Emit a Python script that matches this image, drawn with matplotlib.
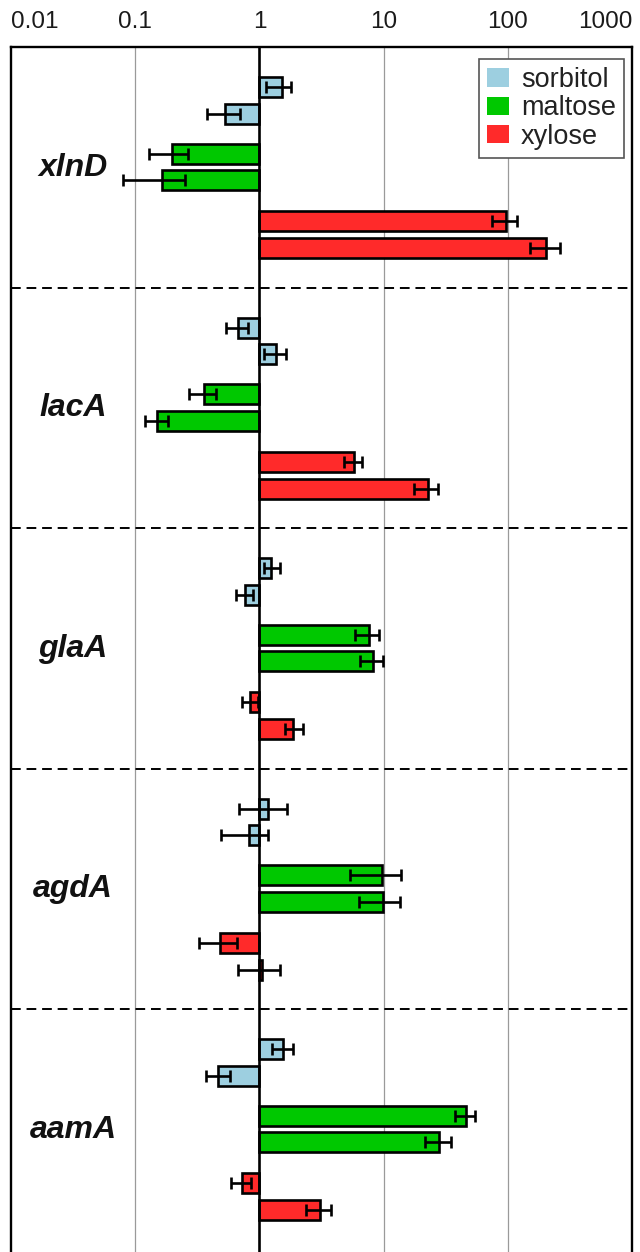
import matplotlib
matplotlib.use("Agg")
import matplotlib.pyplot as plt
from matplotlib.patches import Patch
import numpy as np

# ---------------- data ----------------
genes = ["xlnD", "lacA", "glaA", "agdA", "aamA"]
sugars = ["sorbitol", "maltose", "xylose"]
tick_values = [0.01, 0.1, 1, 10, 100, 1000]
tick_labels = ["0.01", "0.1", "1", "10", "100", "1000"]

# two replicates per gene (gene order as above)
sorbitol = [1.51, 0.53, 0.67, 1.35, 1.25, 0.76, 1.18, 0.82, 1.54, 0.46]
sorbitol_lo = [1.14, 0.38, 0.54, 1.08, 1.08, 0.65, 0.69, 0.49, 1.27, 0.37]
sorbitol_hi = [1.81, 0.70, 0.81, 1.64, 1.46, 0.89, 1.68, 1.18, 1.85, 0.58]

maltose = [0.197, 0.164, 0.36, 0.149, 7.6, 8.2, 9.7, 9.85, 45.7, 27.8]
maltose_lo = [0.128, 0.080, 0.272, 0.119, 5.86, 6.46, 5.4, 6.37, 37.6, 21.4]
maltose_hi = [0.266, 0.254, 0.45, 0.184, 9.2, 9.93, 13.9, 13.6, 54.8, 34.9]

xylose = [96, 204, 5.8, 22.7, 0.84, 1.88, 0.485, 1.05, 0.72, 3.09]
xylose_lo = [74, 151, 4.78, 17.7, 0.72, 1.6, 0.324, 0.67, 0.586, 2.36]
xylose_hi = [119, 262, 6.66, 27.2, 0.98, 2.24, 0.656, 1.46, 0.854, 3.79]

colors = {"sorbitol": "#9dcfe0", "maltose": "#00c800", "xylose": "#ff2a2a"}

# ---------------- layout ----------------
W, H = 640, 1252
fig = plt.figure(figsize=(W / 100, H / 100), dpi=100)
ax_left, ax_right, ax_top = 11, 632, 47
ax = fig.add_axes([ax_left / W, 0, (ax_right - ax_left) / W, 1 - ax_top / H])

GROUP_H = 240.5
offsets = {"sorbitol": (40, 66.5), "maltose": (106.5, 133), "xylose": (174, 201)}
BAR_H = 20
LW = 1.9

series = {
    "sorbitol": (sorbitol, sorbitol_lo, sorbitol_hi),
    "maltose": (maltose, maltose_lo, maltose_hi),
    "xylose": (xylose, xylose_lo, xylose_hi),
}

for sugar in sugars:
    vals, lo, hi = (np.array(a, dtype=float) for a in series[sugar])
    ys = np.array([g * GROUP_H + offsets[sugar][r]
                   for g in range(len(genes)) for r in range(2)])
    ax.barh(ys, vals - 1, left=1, height=BAR_H, color=colors[sugar],
            edgecolor="black", linewidth=LW, zorder=3)
    ax.errorbar(vals, ys, xerr=[vals - lo, hi - vals], fmt="none",
                ecolor="black", elinewidth=LW, capsize=4, capthick=LW,
                zorder=4)

ax.set_xscale("log")
ax.set_xlim(0.01, 1000)
ax.set_ylim(1205, 0)

# grid lines
for v in [0.1, 10, 100]:
    ax.axvline(v, color="#9a9a9a", lw=0.9, zorder=1)
ax.axvline(1, color="black", lw=1.9, zorder=5)

# group separators
for g in range(1, len(genes)):
    ax.axhline(g * GROUP_H, color="black", lw=1.4, ls=(0, (5, 3)), zorder=2)

# gene labels
xfrac = (73 - ax_left) / (ax_right - ax_left)
for g, name in enumerate(genes):
    ax.text(xfrac, g * GROUP_H + 121, name, transform=ax.get_yaxis_transform(),
            ha="center", va="center", fontsize=23, fontweight="bold",
            fontstyle="italic", family="Liberation Sans", color="#111111")

# ticks on top
ax.xaxis.tick_top()
ax.set_xticks(tick_values)
ax.set_xticklabels(tick_labels)
ax.minorticks_off()
ax.tick_params(axis="x", which="both", length=0, pad=10, labelsize=17.5,
               labelcolor="#1a1a1a")
labs = ax.get_xticklabels()
for lab in labs:
    lab.set_family("Liberation Sans")
labs[0].set_ha("left")
labs[-1].set_ha("right")
ax.set_yticks([])

for s in ["left", "right", "top"]:
    ax.spines[s].set_linewidth(1.7)
    ax.spines[s].set_color("black")
ax.spines["bottom"].set_visible(False)

handles = [Patch(facecolor=colors[s], edgecolor="none", label=s) for s in sugars]
leg = ax.legend(handles=handles, loc="upper right",
                bbox_to_anchor=(0.987, 0.990), borderaxespad=0,
                fancybox=False, framealpha=1, edgecolor="#555555",
                prop={"family": "Liberation Sans", "size": 19.5},
                handlelength=0.78, handleheight=0.68, handletextpad=0.45,
                labelspacing=0.08, borderpad=0.3)
leg.get_frame().set_linewidth(1.2)
for t in leg.get_texts():
    t.set_color("#222222")

fig.savefig("out.png", dpi=100)
